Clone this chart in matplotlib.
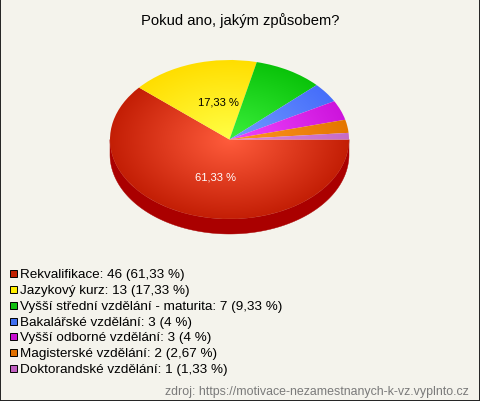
import numpy as np
import matplotlib
matplotlib.use('Agg')
import matplotlib.pyplot as plt
from matplotlib.patches import Wedge, Polygon, Rectangle
from matplotlib.transforms import Affine2D

title = "Pokud ano, jakým způsobem?"
categories = ["Rekvalifikace", "Jazykový kurz", "Vyšší střední vzdělání - maturita",
              "Bakalářské vzdělání", "Vyšší odborné vzdělání", "Magisterské vzdělání",
              "Doktorandské vzdělání"]
counts = [46, 13, 7, 3, 3, 2, 1]
percent_labels = ["61,33 %", "17,33 %", "9,33 %", "4 %", "4 %", "2,67 %", "1,33 %"]
light_colors = [(255, 92, 60), (255, 255, 70), (60, 240, 60), (115, 155, 255),
                (240, 70, 255), (255, 150, 35), (220, 135, 220)]
dark_colors = [(195, 30, 5), (255, 222, 0), (10, 195, 10), (70, 110, 250),
               (205, 20, 220), (228, 118, 0), (198, 108, 198)]
legend_colors = ["#c02000", "#ffee00", "#10c010", "#4070f0", "#c810d0", "#e07000", "#c060c0"]
side_color = "#aa0000"
source = "zdroj: https://motivace-nezamestnanych-k-vz.vyplnto.cz"

W, H = 480, 402
bg = "#f4f3ec"
plt.rcParams['font.family'] = ['Liberation Sans', 'DejaVu Sans']
fig = plt.figure(figsize=(4.8, 4.02), dpi=100, facecolor=bg)
ax = fig.add_axes([0, 0, 1, 1])
ax.set_xlim(0, W)
ax.set_ylim(H, 0)
ax.axis('off')
ax.set_facecolor(bg)

cx, cy, rx, ry, depth = 229.5, 140.5, 119.5, 79.5, 15
ell = Affine2D().scale(rx, -ry).translate(cx, cy) + ax.transData

# side (front half)
t = np.radians(np.linspace(180, 360, 200))
top_x = cx + rx * np.cos(t)
top_y = cy - ry * np.sin(t)
pts = np.concatenate([np.column_stack([top_x, top_y]),
                      np.column_stack([top_x[::-1], top_y[::-1] + depth])])
ax.add_patch(Polygon(pts, closed=True, facecolor=side_color, edgecolor=side_color, lw=0.3))

# gradient grid
xs = np.arange(cx - rx - 2, cx + rx + 2, 0.5)
ys = np.arange(cy - ry - 2, cy + ry + 2, 0.5)
X, Y = np.meshgrid(xs, ys)
R = np.clip(np.sqrt(((X - cx) / rx) ** 2 + ((Y - cy) / ry) ** 2), 0, 1)[..., None]
extent = (xs[0], xs[-1], ys[-1], ys[0])

total = sum(counts)
start = 0.0
for i, c in enumerate(counts):
    span = c / total * 360.0
    th1, th2 = start - span, start
    w = Wedge((0, 0), 1.0, th1, th2, transform=ell, facecolor='none', edgecolor='none')
    ax.add_patch(w)
    lc = np.array(light_colors[i]) / 255.0
    dc = np.array(dark_colors[i]) / 255.0
    img = lc * (1 - R) + dc * R
    im = ax.imshow(img, extent=extent, origin='upper', interpolation='bilinear', zorder=2)
    im.set_clip_path(w)
    pct = c / total * 100
    if pct >= 10:
        m = np.radians((th1 + th2) / 2)
        f = 0.5
        tx = cx + f * rx * np.cos(m) + 7
        ty = cy - f * ry * np.sin(m)
        col = 'white' if i == 0 else 'black'
        ax.text(tx, ty, percent_labels[i], ha='center', va='center', fontsize=8,
                color=col, zorder=5)
    start = th1

ax.set_xlim(0, W)
ax.set_ylim(H, 0)
ax.set_aspect('auto')

ax.text(W / 2 + 0.5, 21, title, ha='center', va='center', fontsize=10.6, color='black')

y0, dy = 275, 15.85
for i, (cat, c, pl) in enumerate(zip(categories, counts, percent_labels)):
    y = y0 + i * dy
    ax.add_patch(Rectangle((9.5, y - 4), 7, 7, facecolor=legend_colors[i],
                           edgecolor='black', lw=0.7, zorder=4))
    ax.text(20, y, f"{cat}: {c} ({pl})", ha='left', va='center', fontsize=9.7, color='black')

ax.text(469, 392, source, ha='right', va='center', fontsize=8.9, color='#7a7a7a')

fig.patches.append(Rectangle((0, 0), 1, 1, transform=fig.transFigure, fill=False,
                             edgecolor='#222222', lw=1.4))
fig.savefig('out.png', dpi=100, facecolor=bg)
